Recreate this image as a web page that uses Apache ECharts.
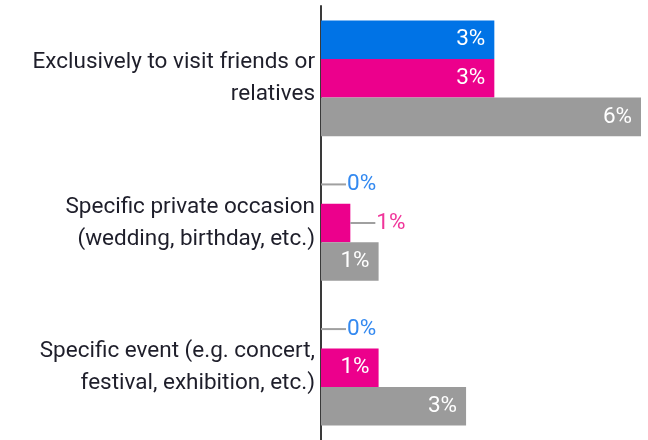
<!DOCTYPE html>
<html>
<head>
<meta charset="utf-8">
<script src="https://cdn.jsdelivr.net/npm/echarts@6/dist/echarts.min.js"></script>
<style>
  html, body { margin: 0; padding: 0; background: #fff; }
  #chart { width: 648px; height: 440px; }
</style>
</head>
<body>
<div id="chart"></div>
<script>
// Reasons for the trip, share of respondents (%)
const categories = [
  'Exclusively to visit friends or\nrelatives',
  'Specific private occasion\n(wedding, birthday, etc.)',
  'Specific event (e.g. concert,\nfestival, exhibition, etc.)'
];
const seriesNames = ['Group A', 'Group B', 'Group C'];
const valuesA = [3.25, 0, 0];
const valuesB = [3.25, 0.55, 1.08];
const valuesC = [6.0, 1.08, 2.72];

const barColors = ['#0073e6', '#ec008c', '#9b9b9b'];
const outsideTextColors = ['#3389f0', '#f0359a', '#9b9b9b'];
const FONT = 'Roboto';
const FONT_SIZE = 22.5;

function pct(v) { return Math.round(v) + '%'; }

function buildData(values, idx) {
  return values.map(function (v) {
    if (v >= 0.8) {
      return {
        value: v,
        label: {
          show: true,
          position: 'insideRight',
          distance: 9,
          color: '#ffffff',
          fontFamily: FONT,
          fontSize: FONT_SIZE,
          formatter: function (p) { return pct(p.value); }
        }
      };
    }
    // short bars: value printed beside the bar after a grey leader stroke
    return {
      value: v,
      label: {
        show: true,
        position: 'right',
        distance: 0,
        formatter: function (p) { return '{l|}{t|' + pct(p.value) + '}'; },
        rich: {
          l: { width: 25, height: 2, backgroundColor: '#a0a0a0' },
          t: { color: outsideTextColors[idx], fontFamily: FONT, fontSize: FONT_SIZE, padding: [0, 0, 0, 1] }
        }
      }
    };
  });
}

const chart = echarts.init(document.getElementById('chart'), null, { renderer: 'canvas' });
chart.setOption({
  animation: false,
  backgroundColor: '#ffffff',
  grid: { left: 321, right: 7, top: 6, bottom: 0, containLabel: false },
  xAxis: {
    type: 'value',
    min: 0,
    max: 6,
    show: false
  },
  yAxis: {
    type: 'category',
    inverse: true,
    data: categories,
    axisLine: { show: true, lineStyle: { color: '#3a3a3a', width: 2 } },
    axisTick: { show: false },
    axisLabel: {
      margin: 6,
      color: '#1e1e2a',
      fontFamily: FONT,
      fontSize: FONT_SIZE,
      lineHeight: 32,
      align: 'right'
    }
  },
  series: [valuesA, valuesB, valuesC].map(function (vals, i) {
    return {
      name: seriesNames[i],
      type: 'bar',
      data: buildData(vals, i),
      barGap: '0%',
      barCategoryGap: '20%',
      itemStyle: { color: barColors[i] },
      z: 2
    };
  })
});
</script>
</body>
</html>
